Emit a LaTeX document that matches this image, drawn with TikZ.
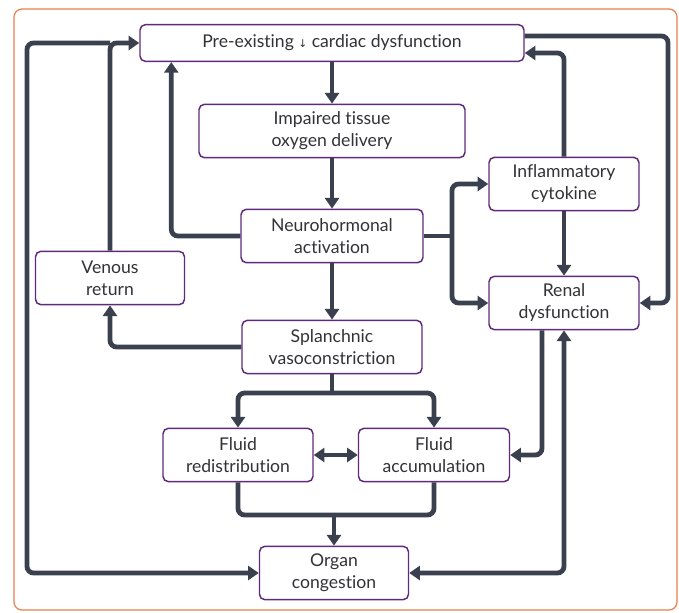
\documentclass[tikz,border=0pt]{standalone}
\usepackage{fontspec}
\setmainfont[Ligatures=NoCommon]{Lato}
\newfontfamily\symfont{DejaVu Sans}
\usetikzlibrary{arrows.meta, calc}
\definecolor{framered}{RGB}{232,128,74}
\definecolor{boxpurple}{RGB}{96,42,124}
\definecolor{linegray}{RGB}{58,64,77}
\definecolor{textgray}{RGB}{50,50,55}

\begin{document}
\begin{tikzpicture}[x=0.75pt, y=-0.75pt,
    box/.style={rectangle, draw=boxpurple, line width=1.1pt, fill=white, rounded corners=4pt, minimum width=#1*0.75pt, minimum height=40pt, align=center, text=textgray, font=\fontsize{13.2}{16.5}\selectfont},
    link/.style={line width=3.6pt, color=linegray, rounded corners=5pt},
    arrow/.style={link, -{Triangle[length=8pt, width=10.5pt]}},
    dblarrow/.style={link, {Triangle[length=8pt, width=10.5pt]}-{Triangle[length=8pt, width=10.5pt]}}
]

% Frame
\useasboundingbox (0,0) rectangle (679,612);
\draw[framered, line width=0.9pt, rounded corners=6pt] (14,9) rectangle (677,610);

% Boxes
\node[box=384, minimum height=27.5pt] (pre) at (332,43) {Pre-existing {\symfont\footnotesize ↓} cardiac dysfunction};
\node[box=266] (tissue) at (332,131) {Impaired tissue\\oxygen delivery};
\node[box=182] (neuro) at (332,236) {Neurohormonal\\activation};
\node[box=149] (venous) at (110,278) {Venous\\return};
\node[box=180] (splanch) at (332,347) {Splanchnic\\vasoconstriction};
\node[box=150] (inflam) at (564,184) {Inflammatory\\cytokine};
\node[box=150] (renal) at (564,303) {Renal\\dysfunction};
\node[box=150] (redist) at (238,455) {Fluid\\redistribution};
\node[box=151] (accum) at (434,455) {Fluid\\accumulation};
\node[box=149] (organ) at (334,573) {Organ\\congestion};

% Branch points
\coordinate (lcorner) at (27,43);
\coordinate (rcol) at (668,0);
\coordinate (nbranch) at (452,236);
\coordinate (sbranch) at (332,393);
\coordinate (fmerge) at (334,515);

% Main chain
\draw[arrow] (pre) -- (tissue);
\draw[arrow] (tissue) -- (neuro);
\draw[arrow] (neuro) -- (splanch);
\draw[arrow] (neuro.west) -| ([xshift=24pt]pre.south west);

% Venous return loop
\draw[arrow] (splanch.west) -| (venous.south);
\draw[arrow] (venous.north) |- (pre.west);
\draw[arrow] (venous.north |- pre.west) -- (lcorner) |- (organ.west);

% Right side
\draw[arrow] ([yshift=5.25pt]pre.east) -| (rcol |- renal.east) -- (renal.east);
\draw[arrow] (inflam.north) |- ([yshift=-7.5pt]pre.east);
\draw[arrow] (inflam) -- (renal);
\draw[link] (neuro.east) -- (nbranch);
\draw[arrow] (nbranch) |- (inflam.west);
\draw[arrow] (nbranch) |- (renal.west);

% Fluid
\draw[link] (splanch.south) -- (sbranch);
\draw[arrow] (sbranch) -| (redist.north);
\draw[arrow] (sbranch) -| (accum.north);
\draw[dblarrow] (redist) -- (accum);
\draw[arrow] ([xshift=-16.5pt]renal.south) |- (accum.east);
\draw[link] (redist.south) |- (fmerge);
\draw[link] (accum.south) |- (fmerge);
\draw[arrow] (fmerge) -- (organ.north);
\draw[dblarrow] (organ.east) -| (renal.south);

\end{tikzpicture}
\end{document}
